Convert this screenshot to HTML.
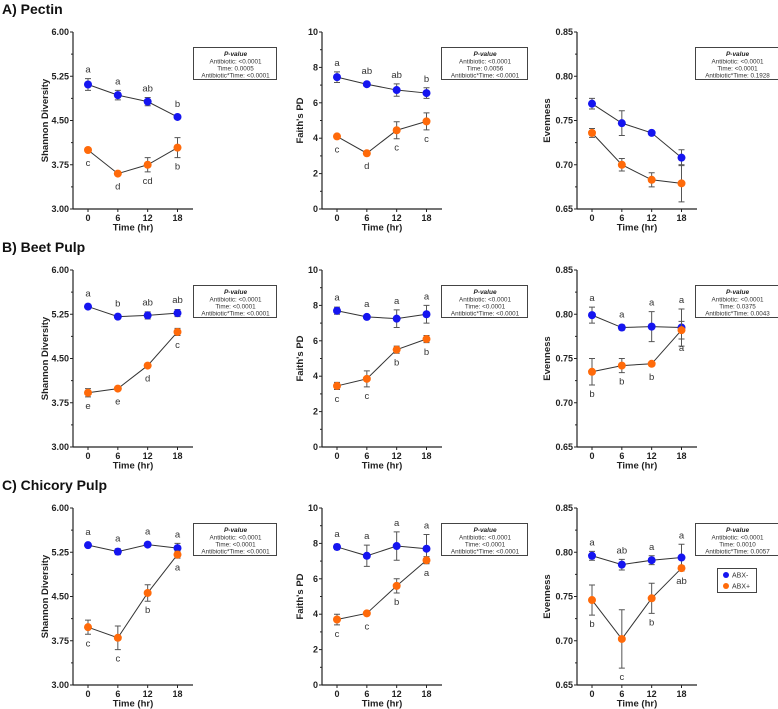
<!DOCTYPE html>
<html><head><meta charset="utf-8">
<style>
body{margin:0;background:#fff;width:778px;height:709px;overflow:hidden}
svg{display:block;font-family:"Liberation Sans",Arial,sans-serif}
</style></head>
<body>
<svg id="fig" width="778" height="709" viewBox="0 0 778 709"></svg>
<script>
const times=[0,6,12,18];
// Row A Pectin
const pecShanBlue=[5.11,4.93,4.82,4.56], pecShanBlueErr=[0.1,0.08,0.07,0.01];
const pecShanOr=[4.00,3.60,3.75,4.04], pecShanOrErr=[0.03,0.01,0.12,0.17];
const pecFaithBlue=[7.45,7.05,6.72,6.55], pecFaithBlueErr=[0.3,0.1,0.35,0.3];
const pecFaithOr=[4.1,3.15,4.45,4.95], pecFaithOrErr=[0.05,0.05,0.48,0.48];
const pecEvenBlue=[0.769,0.747,0.736,0.708], pecEvenBlueErr=[0.006,0.014,0.002,0.009];
const pecEvenOr=[0.736,0.700,0.683,0.679], pecEvenOrErr=[0.005,0.007,0.008,0.021];
// Row B Beet pulp
const beetShanBlue=[5.38,5.21,5.23,5.27], beetShanBlueErr=[0.01,0.03,0.06,0.06];
const beetShanOr=[3.92,3.99,4.38,4.95], beetShanOrErr=[0.07,0.02,0.01,0.06];
const beetFaithBlue=[7.7,7.35,7.25,7.5], beetFaithBlueErr=[0.2,0.1,0.5,0.5];
const beetFaithOr=[3.45,3.85,5.5,6.1], beetFaithOrErr=[0.2,0.45,0.2,0.2];
const beetEvenBlue=[0.799,0.785,0.786,0.785], beetEvenBlueErr=[0.009,0.003,0.017,0.021];
const beetEvenOr=[0.735,0.742,0.744,0.782], beetEvenOrErr=[0.015,0.008,0.001,0.01];
// Row C Chicory pulp
const chicShanBlue=[5.37,5.26,5.38,5.32], chicShanBlueErr=[0.03,0.05,0.02,0.08];
const chicShanOr=[3.98,3.80,4.56,5.21], chicShanOrErr=[0.12,0.2,0.14,0.06];
const chicFaithBlue=[7.8,7.3,7.85,7.7], chicFaithBlueErr=[0.15,0.6,0.8,0.8];
const chicFaithOr=[3.7,4.05,5.6,7.05], chicFaithOrErr=[0.3,0.1,0.4,0.2];
const chicEvenBlue=[0.796,0.786,0.791,0.794], chicEvenBlueErr=[0.005,0.006,0.005,0.015];
const chicEvenOr=[0.746,0.702,0.748,0.782], chicEvenOrErr=[0.017,0.033,0.017,0.003];
// y-axis ticks
const shanTicks=["3.00","3.75","4.50","5.25","6.00"];
const faithTicks=["0","2","4","6","8","10"];
const evenTicks=["0.65","0.70","0.75","0.80","0.85"];
const xTickLabels=["0","6","12","18"];
// letters
const pecShanLetB=["a","a","ab","b"], pecShanLetO=["c","d","cd","b"];
const pecFaithLetB=["a","ab","ab","b"], pecFaithLetO=["c","d","c","c"];
const beetShanLetB=["a","b","ab","ab"], beetShanLetO=["e","e","d","c"];
const beetFaithLetB=["a","a","a","a"], beetFaithLetO=["c","c","b","b"];
const beetEvenLetB=["a","a","a","a"], beetEvenLetO=["b","b","b","a"];
const chicShanLetB=["a","a","a","a"], chicShanLetO=["c","c","b","a"];
const chicFaithLetB=["a","a","a","a"], chicFaithLetO=["c","c","b","a"];
const chicEvenLetB=["a","ab","a","a"], chicEvenLetO=["b","c","b","ab"];
// p-values
const pPec=[["<0.0001","0.0005","<0.0001"],["<0.0001","0.0056","<0.0001"],["<0.0001","<0.0001","0.1928"]];
const pBeet=[["<0.0001","<0.0001","<0.0001"],["<0.0001","<0.0001","<0.0001"],["<0.0001","0.0375","0.0043"]];
const pChic=[["<0.0001","<0.0001","<0.0001"],["<0.0001","<0.0001","<0.0001"],["<0.0001","0.0010","0.0057"]];

const NS="http://www.w3.org/2000/svg";
const svg=document.getElementById('fig');
function mk(tag,attrs,parent,text){const e=document.createElementNS(NS,tag);for(const k in attrs)e.setAttribute(k,attrs[k]);if(text!==undefined)e.textContent=text;(parent||svg).appendChild(e);return e;}

const colX=[73,322,577], rowY=[32,270,508], H=177;
const boxX=[193,441,695], boxW=[83,86,83];
const BLUE="#1515f0", ORANGE="#ff6a0a";

function panel(r,c,cfg){
  const ax=colX[c], top=rowY[r], bot=top+H;
  const g=mk('g',{});
  
  
  svg.appendChild(g);
  const xs=t=>ax+15+t*(89.5/18);
  const ys=v=>bot-(v-cfg.min)/(cfg.max-cfg.min)*H;
  const ya=mk('line',{x1:ax,y1:top,x2:ax,y2:bot,stroke:"#222","stroke-width":1.2},g);
  
  const xa=mk('line',{x1:ax,y1:bot,x2:ax+120,y2:bot,stroke:"#222","stroke-width":1.2},g);
  
  const n=cfg.ticks.length;
  cfg.ticks.forEach((t,i)=>{
    const y=bot-i*H/(n-1);
    mk('line',{x1:ax-3,y1:y,x2:ax,y2:y,stroke:"#222"},g);
    if(i<n-1){const ym=y-H/(n-1)/2;mk('line',{x1:ax-2,y1:ym,x2:ax,y2:ym,stroke:"#222"},g);}
    const tl=mk('text',{x:ax-4,y:y+3,"text-anchor":"end","font-size":9,"font-weight":"bold",fill:"#222"},g,t);
    
  });
  times.forEach((t,i)=>{
    mk('line',{x1:xs(t),y1:bot,x2:xs(t),y2:bot+3,stroke:"#222"},g);
    const tl=mk('text',{x:xs(t),y:bot+12,"text-anchor":"middle","font-size":9,"font-weight":"bold",fill:"#222"},g,xTickLabels[i]);
    
  });
  const xt=mk('text',{x:ax+60,y:bot+21.5,"text-anchor":"middle","font-size":9.5,"font-weight":"bold",fill:"#222"},g,"Time (hr)");
  
  const yx=ax-cfg.titleOff, yy=(top+bot)/2;
  const yt=mk('text',{x:yx,y:yy,"text-anchor":"middle","font-size":9.5,"font-weight":"bold",fill:"#222",transform:`rotate(-90 ${yx} ${yy})`},g,cfg.title);
  
  [[cfg.b,cfg.be,BLUE,cfg.lb,'abx-minus',-1],[cfg.o,cfg.oe,ORANGE,cfg.lo,'abx-plus',1]].forEach(([vals,errs,col,lets,nm,dir])=>{
    const sg=mk('g',{},g);
    
    const pts=vals.map((v,i)=>xs(times[i])+','+ys(v)).join(' ');
    const ln=mk('polyline',{points:pts,fill:"none",stroke:"#333","stroke-width":1},sg);
    
    vals.forEach((v,i)=>{
      const x=xs(times[i]), yh=ys(v+errs[i]), yl=ys(v-errs[i]);
      const eb=mk('path',{d:`M${x},${yh}V${yl}M${x-3},${yh}H${x+3}M${x-3},${yl}H${x+3}`,stroke:"#555","stroke-width":1,fill:"none"},sg);
      
      const pt=mk('circle',{cx:x,cy:ys(v),r:4,fill:col},sg);
      
      if(lets){
        const ly=dir<0?Math.min(yh,ys(v)-4)-6:Math.max(yl,ys(v)+4)+12;
        const lt=mk('text',{x:x,y:ly,"text-anchor":"middle","font-size":9.5,fill:"#333"},sg,lets[i]);
        
      }
    });
  });
  const bx=boxX[c], by=top+15, bw=boxW[c];
  const pb=mk('g',{},g);
  
  mk('rect',{x:bx+0.5,y:by+0.5,width:bw,height:32,fill:"#fff",stroke:"#444","stroke-width":1},pb);
  const cx=bx+bw/2+1;
  mk('text',{x:cx,y:by+9,"text-anchor":"middle","font-size":6.5,"font-weight":"bold","font-style":"italic",fill:"#222"},pb,"P-value");
  mk('text',{x:cx,y:by+16.5,"text-anchor":"middle","font-size":6.3,fill:"#333"},pb,"Antibiotic: "+cfg.p[0]);
  mk('text',{x:cx,y:by+23.5,"text-anchor":"middle","font-size":6.3,fill:"#333"},pb,"Time: "+cfg.p[1]);
  mk('text',{x:cx,y:by+30.5,"text-anchor":"middle","font-size":6.3,fill:"#333"},pb,"Antibiotic*Time: "+cfg.p[2]);
}
const SH={min:3,max:6,ticks:shanTicks,title:"Shannon Diversity",titleOff:25};
const FA={min:0,max:10,ticks:faithTicks,title:"Faith's PD",titleOff:19};
const EV={min:0.65,max:0.85,ticks:evenTicks,title:"Evenness",titleOff:27};
panel(0,0,{...SH,b:pecShanBlue,be:pecShanBlueErr,o:pecShanOr,oe:pecShanOrErr,lb:pecShanLetB,lo:pecShanLetO,p:pPec[0]});
panel(0,1,{...FA,b:pecFaithBlue,be:pecFaithBlueErr,o:pecFaithOr,oe:pecFaithOrErr,lb:pecFaithLetB,lo:pecFaithLetO,p:pPec[1]});
panel(0,2,{...EV,b:pecEvenBlue,be:pecEvenBlueErr,o:pecEvenOr,oe:pecEvenOrErr,lb:null,lo:null,p:pPec[2]});
panel(1,0,{...SH,b:beetShanBlue,be:beetShanBlueErr,o:beetShanOr,oe:beetShanOrErr,lb:beetShanLetB,lo:beetShanLetO,p:pBeet[0]});
panel(1,1,{...FA,b:beetFaithBlue,be:beetFaithBlueErr,o:beetFaithOr,oe:beetFaithOrErr,lb:beetFaithLetB,lo:beetFaithLetO,p:pBeet[1]});
panel(1,2,{...EV,b:beetEvenBlue,be:beetEvenBlueErr,o:beetEvenOr,oe:beetEvenOrErr,lb:beetEvenLetB,lo:beetEvenLetO,p:pBeet[2]});
panel(2,0,{...SH,b:chicShanBlue,be:chicShanBlueErr,o:chicShanOr,oe:chicShanOrErr,lb:chicShanLetB,lo:chicShanLetO,p:pChic[0]});
panel(2,1,{...FA,b:chicFaithBlue,be:chicFaithBlueErr,o:chicFaithOr,oe:chicFaithOrErr,lb:chicFaithLetB,lo:chicFaithLetO,p:pChic[1]});
panel(2,2,{...EV,b:chicEvenBlue,be:chicEvenBlueErr,o:chicEvenOr,oe:chicEvenOrErr,lb:chicEvenLetB,lo:chicEvenLetO,p:pChic[2]});

[["A) Pectin",14],["B) Beet Pulp",252],["C) Chicory Pulp",490]].forEach(([t,y])=>{
  const e=mk('text',{x:2,y:y,"font-size":14,"font-weight":"bold",fill:"#111"},svg,t);
  
  
});
const lg=mk('g',{});


mk('rect',{x:717.5,y:568.5,width:39,height:24,fill:"#fff",stroke:"#444"},lg);
const l1=mk('g',{},lg);


mk('circle',{cx:726,cy:575,r:3,fill:BLUE},l1);
mk('text',{x:732,y:577.5,"font-size":7,fill:"#333"},l1,"ABX-");
const l2=mk('g',{},lg);


mk('circle',{cx:726,cy:586,r:3,fill:ORANGE},l2);
mk('text',{x:732,y:588.5,"font-size":7,fill:"#333"},l2,"ABX+");
</script>
</body></html>
